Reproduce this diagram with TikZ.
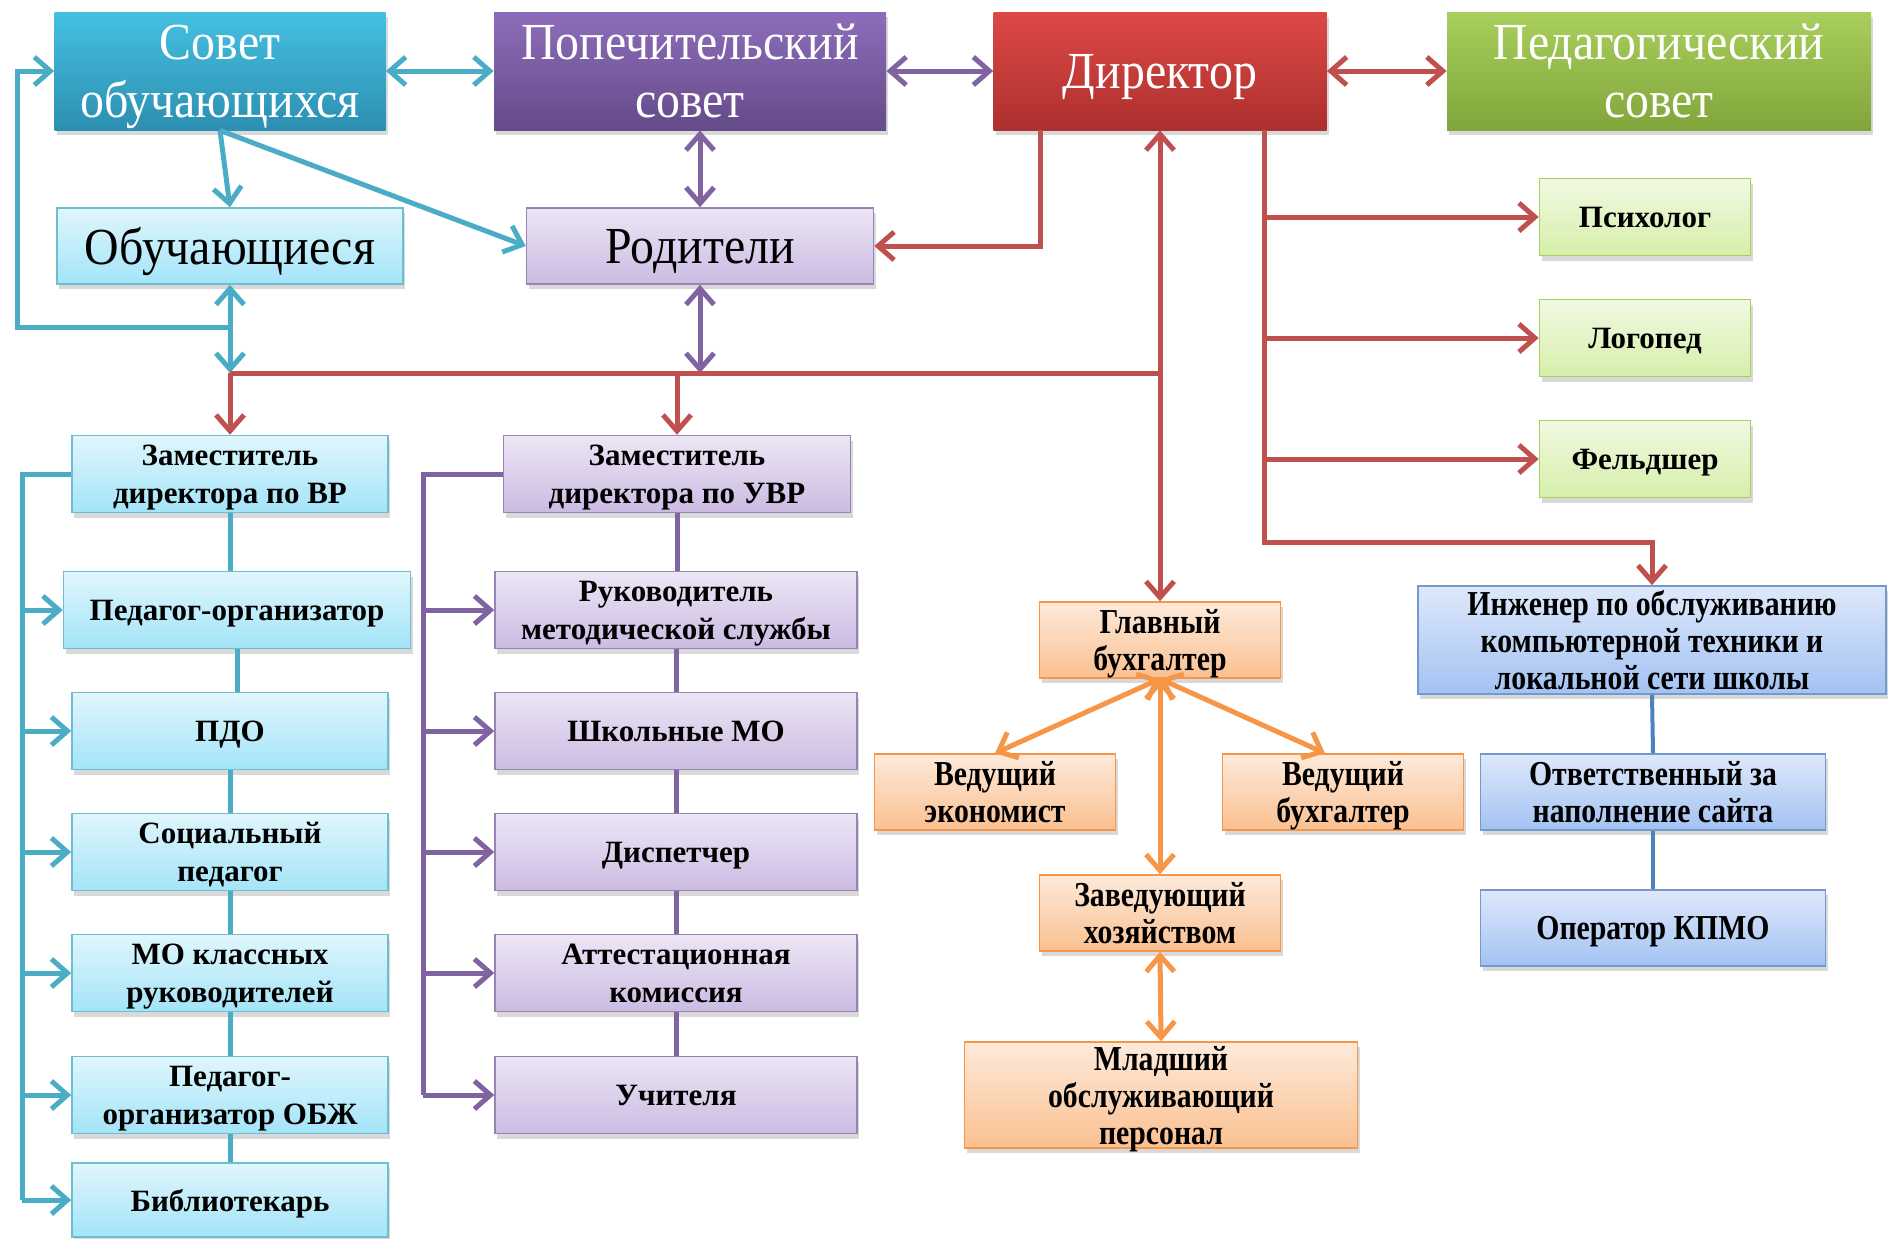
\documentclass[tikz,border=0pt]{standalone}
\usepackage{fontspec}
\setmainfont{Liberation Serif}
\newfontfamily\wideserif[FakeStretch=0.92]{Liberation Serif}
\newfontfamily\narrowserif[FakeStretch=0.85]{Liberation Serif}
\usetikzlibrary{arrows.meta,shadows}

\definecolor{tealdk}{HTML}{4BACC6}
\definecolor{sovtop}{HTML}{45C0E2}
\definecolor{sovbot}{HTML}{2C8FB1}
\definecolor{purdk}{HTML}{8064A2}
\definecolor{poptop}{HTML}{8D6DBA}
\definecolor{popbot}{HTML}{654B89}
\definecolor{reddk}{HTML}{C0504D}
\definecolor{dirtop}{HTML}{DD4845}
\definecolor{dirbot}{HTML}{AC302E}
\definecolor{grtop}{HTML}{A9CF5D}
\definecolor{grbot}{HTML}{80A53B}
\definecolor{ltealtop}{HTML}{E0F6FC}
\definecolor{ltealbot}{HTML}{A3E4F8}
\definecolor{lpurtop}{HTML}{EDE6F5}
\definecolor{lpurbot}{HTML}{CBBBE2}
\definecolor{lgrtop}{HTML}{F1F9E2}
\definecolor{lgrbot}{HTML}{D6EFAA}
\definecolor{ortop}{HTML}{FDEADB}
\definecolor{orbot}{HTML}{FAC090}
\definecolor{ordk}{HTML}{F79646}
\definecolor{bltop}{HTML}{DEE8FA}
\definecolor{blbot}{HTML}{A3C2F3}
\definecolor{bldk}{HTML}{4F81BD}

\tikzset{
  box/.style={rectangle, inner sep=0pt, align=center, text depth=0pt,
    drop shadow={shadow xshift=1pt, shadow yshift=-2.5pt, opacity=0.3}},
  headbox/.style={box, text=white, minimum height=59pt,
    font=\wideserif\fontsize{26}{29}\selectfont},
  bigtext/.style={font=\wideserif\fontsize{26}{29}\selectfont},
  smalltext/.style={font=\bfseries\fontsize{15.5}{19}\selectfont},
  narrowtext/.style={font=\narrowserif\bfseries\fontsize{17.5}{18.5}\selectfont},
  tealbox/.style={box, draw=tealdk!80, line width=0.8pt, top color=ltealtop, bottom color=ltealbot},
  purbox/.style={box, draw=purdk!80, line width=0.8pt, top color=lpurtop, bottom color=lpurbot},
  grbox/.style={box, draw=grtop, line width=0.8pt, top color=lgrtop, bottom color=lgrbot},
  orbox/.style={box, draw=ordk, line width=0.8pt, top color=ortop, bottom color=orbot},
  blbox/.style={box, draw=bldk!80, line width=0.8pt, top color=bltop, bottom color=blbot},
  tline/.style={draw=tealdk, line width=2.5pt},
  pline/.style={draw=purdk, line width=2.5pt},
  rline/.style={draw=reddk, line width=2.5pt},
  oline/.style={draw=ordk, line width=2.5pt},
  bline/.style={draw=bldk, line width=2pt},
  arr/.style={-{Straight Barb[length=8pt,width=14pt]}},
  darr/.style={{Straight Barb[length=8pt,width=14pt]}-{Straight Barb[length=8pt,width=14pt]}}
}

\begin{document}
\begin{tikzpicture}[x=0.5pt,y=-0.5pt]
\useasboundingbox (0,0) rectangle (1888,1238);

% top row
\node[headbox, top color=sovtop, bottom color=sovbot, minimum width=165.5pt] (sovet) at (220,71) {Совет\\обучающихся};
\node[headbox, top color=poptop, bottom color=popbot, minimum width=196pt] (popech) at (690,71) {Попечительский\\совет};
\node[headbox, top color=dirtop, bottom color=dirbot, minimum width=166.5pt] (direktor) at (1160,71) {Директор};
\node[headbox, top color=grtop, bottom color=grbot, minimum width=212pt] (pedsovet) at (1659,71) {Педагогический\\совет};

\node[tealbox, bigtext, minimum width=173pt, minimum height=38pt] (uchashch) at (230,246) {Обучающиеся};
\node[purbox, bigtext, minimum width=173.5pt, minimum height=38pt] (roditeli) at (700,246) {Родители};

% left column
\node[tealbox, smalltext, minimum width=158pt, minimum height=38.5pt] (zamvr) at (230,474) {Заместитель\\директора по ВР};
\node[tealbox, smalltext, minimum width=173.5pt, minimum height=38.5pt] (pedorg) at (237,610) {Педагог-организатор};
\node[tealbox, smalltext, minimum width=158pt, minimum height=38.5pt] (pdo) at (230,731) {ПДО};
\node[tealbox, smalltext, minimum width=158pt, minimum height=38.5pt] (socped) at (230,852) {Социальный\\педагог};
\node[tealbox, smalltext, minimum width=158pt, minimum height=38.5pt] (mokl) at (230,973) {МО классных\\руководителей};
\node[tealbox, smalltext, minimum width=158pt, minimum height=38.5pt] (obzh) at (230,1095) {Педагог-\\организатор ОБЖ};
\node[tealbox, smalltext, minimum width=158pt, minimum height=37pt] (bibl) at (230,1200) {Библиотекарь};

% middle column
\node[purbox, smalltext, minimum width=173.5pt, minimum height=38.5pt] (zamuvr) at (677,474) {Заместитель\\директора по УВР};
\node[purbox, smalltext, minimum width=181pt, minimum height=38.5pt] (rukmet) at (676,610) {Руководитель\\методической службы};
\node[purbox, smalltext, minimum width=181pt, minimum height=38.5pt] (shmo) at (676,731) {Школьные МО};
\node[purbox, smalltext, minimum width=181pt, minimum height=38.5pt] (disp) at (676,852) {Диспетчер};
\node[purbox, smalltext, minimum width=181pt, minimum height=38.5pt] (attest) at (676,973) {Аттестационная\\комиссия};
\node[purbox, smalltext, minimum width=181pt, minimum height=38.5pt] (uchit) at (676,1095) {Учителя};

% right side
\node[grbox, smalltext, minimum width=105.5pt, minimum height=38.5pt] (psih) at (1645,217) {Психолог};
\node[grbox, smalltext, minimum width=105.5pt, minimum height=38.5pt] (logo) at (1645,338) {Логопед};
\node[grbox, smalltext, minimum width=105.5pt, minimum height=38.5pt] (feld) at (1645,459) {Фельдшер};

\node[orbox, narrowtext, minimum width=120.5pt, minimum height=38pt] (glbuh) at (1160,640) {Главный\\бухгалтер};
\node[orbox, narrowtext, minimum width=120.5pt, minimum height=38pt] (vedek) at (995,792) {Ведущий\\экономист};
\node[orbox, narrowtext, minimum width=120.5pt, minimum height=38pt] (vedbuh) at (1343,792) {Ведущий\\бухгалтер};
\node[orbox, narrowtext, minimum width=120.5pt, minimum height=38pt] (zavhoz) at (1160,913) {Заведующий\\хозяйством};
\node[orbox, narrowtext, minimum width=196.5pt, minimum height=53pt] (mladsh) at (1161,1095) {Младший\\обслуживающий\\персонал};

\node[blbox, narrowtext, minimum width=234pt, minimum height=54pt] (inzh) at (1652,640) {Инженер по обслуживанию\\компьютерной техники и\\локальной сети школы};
\node[blbox, narrowtext, minimum width=172.5pt, minimum height=38pt] (otv) at (1653,792) {Ответственный за\\наполнение сайта};
\node[blbox, narrowtext, minimum width=172.5pt, minimum height=38pt] (oper) at (1653,928) {Оператор КПМО};

% bends
\coordinate (busL) at (230,373);
\coordinate (busR) at (1160,373);
\coordinate (loopR) at (230,327);
\coordinate (loopL) at (17,327);
\coordinate (trunk) at (1264,542);
\coordinate (tspine) at (22,1200);
\coordinate (pspine) at (423,1095);

% top connections
\draw[tline, darr] (sovet) -- (popech);
\draw[pline, darr] (popech) -- (direktor);
\draw[rline, darr] (direktor) -- (pedsovet);
\draw[tline, arr] (sovet.south) -- (uchashch.north);
\draw[tline, arr] (sovet.south) -- (roditeli.west);
\draw[tline, darr] (uchashch.south) -- (busL);
\draw[tline, arr] (loopR) -- (loopL) |- (sovet.west);
\draw[pline, darr] (roditeli.north |- popech.south) -- (roditeli.north);
\draw[pline, darr] (roditeli.south) -- (roditeli.south |- busL);

% director
\draw[rline] (busL) -- (busR);
\draw[rline, arr] (busL) -- (zamvr.north);
\draw[rline, arr] (zamuvr.north |- busL) -- (zamuvr.north);
\draw[rline, darr] (direktor.south) -- (glbuh.north);
\draw[rline, arr] ([xshift=-60pt]direktor.south) |- (roditeli.east);
\draw[rline, arr] ([xshift=52pt]direktor.south) -- (trunk) -| (inzh.north);
\foreach \n in {psih,logo,feld}
  \draw[rline, arr] (\n.west -| trunk) -- (\n.west);

% left column
\draw[tline] (zamvr.west) -| (tspine);
\foreach \n in {pedorg,pdo,socped,mokl,obzh,bibl}
  \draw[tline, arr] (\n.west -| tspine) -- (\n.west);
\foreach \a/\b in {zamvr/pedorg,pedorg/pdo,pdo/socped,socped/mokl,mokl/obzh,obzh/bibl}
  \draw[tline] (\a.south) -- (\a.south |- \b.north);

% middle column
\draw[pline] (zamuvr.west) -| (pspine);
\foreach \n in {rukmet,shmo,disp,attest,uchit}
  \draw[pline, arr] (\n.west -| pspine) -- (\n.west);
\foreach \a/\b in {zamuvr/rukmet,rukmet/shmo,shmo/disp,disp/attest,attest/uchit}
  \draw[pline] (\a.south) -- (\a.south |- \b.north);

% accounting
\draw[oline, darr] (glbuh.south) -- (vedek.north);
\draw[oline, darr] (glbuh.south) -- ([xshift=-9pt]vedbuh.north);
\draw[oline, darr] (glbuh.south) -- (zavhoz.north);
\draw[oline, darr] (zavhoz.south) -- (mladsh.north);

% it
\draw[bline] (inzh.south) -- (otv.north);
\draw[bline] (otv.south) -- (oper.north);
\end{tikzpicture}
\end{document}
